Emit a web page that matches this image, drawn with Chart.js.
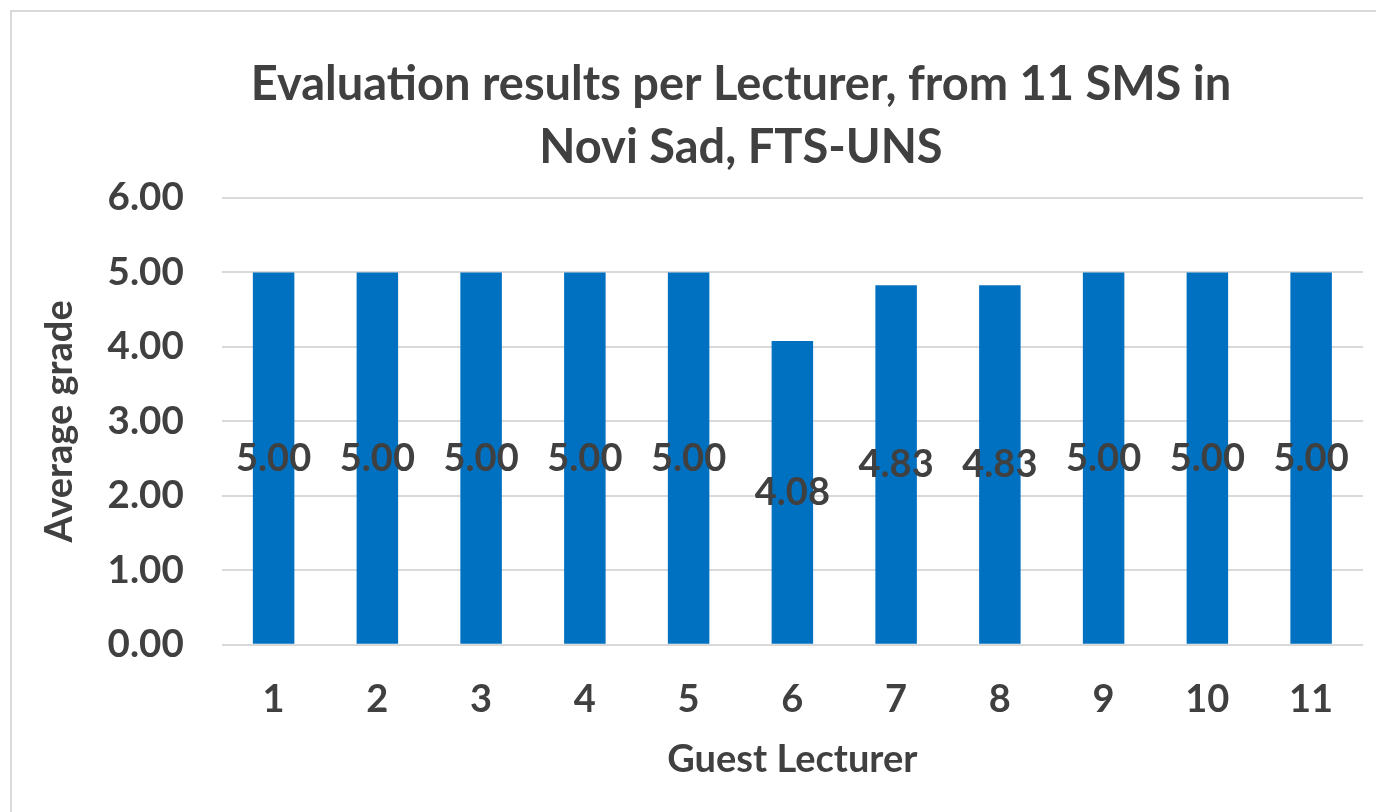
<!DOCTYPE html>
<html>
<head>
<meta charset="utf-8">
<script src="https://cdn.jsdelivr.net/npm/chart.js@4"></script>
<style>
  html, body { margin: 0; padding: 0; background: #fff; overflow: hidden; }
  #frame { position: absolute; left: 10px; top: 10px; width: 1400px; height: 830px; border: 2px solid #d9d9d9; }
  #wrap { position: absolute; left: 0; top: 0; width: 1376px; height: 812px; }
</style>
</head>
<body>
<div id="frame"></div>
<div id="wrap"><canvas id="gradesChart"></canvas></div>
<script>
const lecturers = ["1", "2", "3", "4", "5", "6", "7", "8", "9", "10", "11"];
const grades = [5.00, 5.00, 5.00, 5.00, 5.00, 4.08, 4.83, 4.83, 5.00, 5.00, 5.00];
const yTicks = [0, 1, 2, 3, 4, 5, 6];
const titleLines = ["Evaluation results per Lecturer, from 11 SMS in", "Novi Sad, FTS-UNS"];

const textColor = "#404040";
const font = "Lato";

// the original frame is wider than the crop, so the title is centred on the frame, not the plot
const frameTitle = {
    id: "frameTitle",
    afterDraw(chart) {
        const ctx = chart.ctx;
        ctx.save();
        ctx.font = "bold 47px " + font;
        ctx.fillStyle = textColor;
        ctx.textAlign = "center";
        ctx.textBaseline = "alphabetic";
        titleLines.forEach((line, i) => ctx.fillText(line, 741, 100 + i * 63));
        ctx.restore();
    }
};

// labels sit roughly in the middle of each bar, like the Excel original
const midLabels = {
    id: "midLabels",
    afterDatasetsDraw(chart) {
        const ctx = chart.ctx;
        const meta = chart.getDatasetMeta(0);
        const y = chart.scales.y;
        ctx.save();
        ctx.font = "bold 38px " + font;
        ctx.fillStyle = textColor;
        ctx.textAlign = "center";
        ctx.textBaseline = "middle";
        meta.data.forEach((bar, i) => {
            ctx.fillText(grades[i].toFixed(2), bar.x, y.getPixelForValue(grades[i] / 2));
        });
        ctx.restore();
    }
};

Chart.defaults.font.family = font;
Chart.defaults.color = textColor;

new Chart(document.getElementById("gradesChart"), {
    type: "bar",
    data: {
        labels: lecturers,
        datasets: [{
            label: "Average grade",
            data: grades,
            backgroundColor: "#0070c0",
            categoryPercentage: 1,
            barPercentage: 0.4
        }]
    },
    options: {
        responsive: true,
        maintainAspectRatio: false,
        animation: false,
        layout: { padding: { left: 33, right: 13, top: 198, bottom: 29 } },
        plugins: {
            legend: { display: false },
            tooltip: { enabled: false },
            title: { display: false }
        },
        scales: {
            x: {
                grid: { display: false },
                border: { display: false },
                ticks: { font: { size: 38, weight: "bold" }, padding: 24 },
                title: {
                    display: true,
                    text: "Guest Lecturer",
                    font: { size: 38, weight: "bold" },
                    padding: { top: -9, bottom: 0 }
                }
            },
            y: {
                min: 0,
                max: 6,
                afterBuildTicks(axis) { axis.ticks = yTicks.map(v => ({ value: v })); },
                grid: { color: "#d9d9d9", lineWidth: 2, drawTicks: false },
                border: { display: false },
                ticks: {
                    font: { size: 38.5, weight: "bold" },
                    padding: 38,
                    callback: v => v.toFixed(2)
                },
                title: {
                    display: true,
                    text: "Average grade",
                    font: { size: 38, weight: "bold" },
                    padding: { top: 4, bottom: -13 }
                }
            }
        }
    },
    plugins: [midLabels, frameTitle]
});
</script>
</body>
</html>
